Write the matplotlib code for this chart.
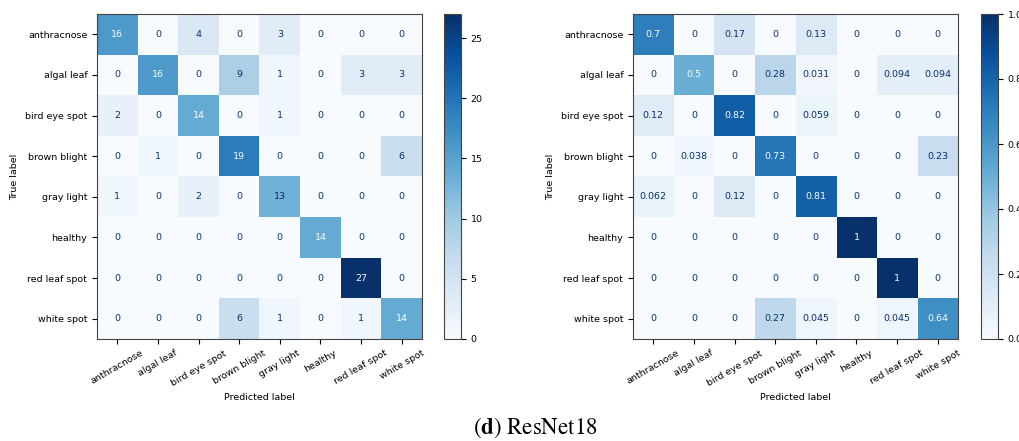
import numpy as np
import matplotlib
matplotlib.use("Agg")
import matplotlib.pyplot as plt

plt.rcParams['mathtext.fontset'] = 'stix'

# Clases
labels = ['anthracnose', 'algal leaf', 'bird eye spot', 'brown blight',
          'gray light', 'healthy', 'red leaf spot', 'white spot']

# Matriz de confusión (conteos)
cm = np.array([
    [16, 0, 4, 0, 3, 0, 0, 0],
    [0, 16, 0, 9, 1, 0, 3, 3],
    [2, 0, 14, 0, 1, 0, 0, 0],
    [0, 1, 0, 19, 0, 0, 0, 6],
    [1, 0, 2, 0, 13, 0, 0, 0],
    [0, 0, 0, 0, 0, 14, 0, 0],
    [0, 0, 0, 0, 0, 0, 27, 0],
    [0, 0, 0, 6, 1, 0, 1, 14],
])

# Normalizada por fila (true label)
cm_norm = cm / cm.sum(axis=1, keepdims=True)

W, H = 1019, 441
fs = 6.8
fig = plt.figure(figsize=(W / 100, H / 100), dpi=100)
cmap = plt.get_cmap('Blues')


def dibujar(ax, cax, mat, fmt, ticks):
    im = ax.imshow(mat, cmap=cmap, interpolation='nearest')
    vmin, vmax = mat.min(), mat.max()
    thresh = (vmax + vmin) / 2.0
    n = mat.shape[0]
    for i in range(n):
        for j in range(n):
            col = cmap(1.0) if mat[i, j] < thresh else cmap(0.0)
            ax.text(j, i, format(mat[i, j], fmt), ha='center', va='center',
                    color=col, fontsize=fs)
    ax.set_xticks(range(n))
    ax.set_yticks(range(n))
    ax.set_xticklabels(labels, rotation=30, fontsize=fs)
    ax.set_yticklabels(labels, fontsize=fs)
    ax.set_xlabel('Predicted label', fontsize=fs)
    ax.set_ylabel('True label', fontsize=fs)
    for s in ax.spines.values():
        s.set_edgecolor('#444444')
    cb = fig.colorbar(im, cax=cax, ticks=ticks)
    cb.ax.tick_params(labelsize=fs)
    cb.outline.set_edgecolor('#444444')
    return im


def px(x0, x1, y0, y1):
    return [x0 / W, 1 - y1 / H, (x1 - x0) / W, (y1 - y0) / H]


ax1 = fig.add_axes(px(97, 422, 14, 339))
cax1 = fig.add_axes(px(444, 461, 14, 339))
ax2 = fig.add_axes(px(633, 958, 14, 339))
cax2 = fig.add_axes(px(981, 998, 14, 339))

dibujar(ax1, cax1, cm, 'd', [0, 5, 10, 15, 20, 25])
dibujar(ax2, cax2, cm_norm, '.2g', [0.0, 0.2, 0.4, 0.6, 0.8, 1.0])

fig.text(535 / W, 1 - 434 / H, r'($\mathbf{d}$) ResNet18', ha='center',
         va='baseline', fontsize=16.5, family='STIXGeneral')

fig.savefig('out.png', dpi=100)
